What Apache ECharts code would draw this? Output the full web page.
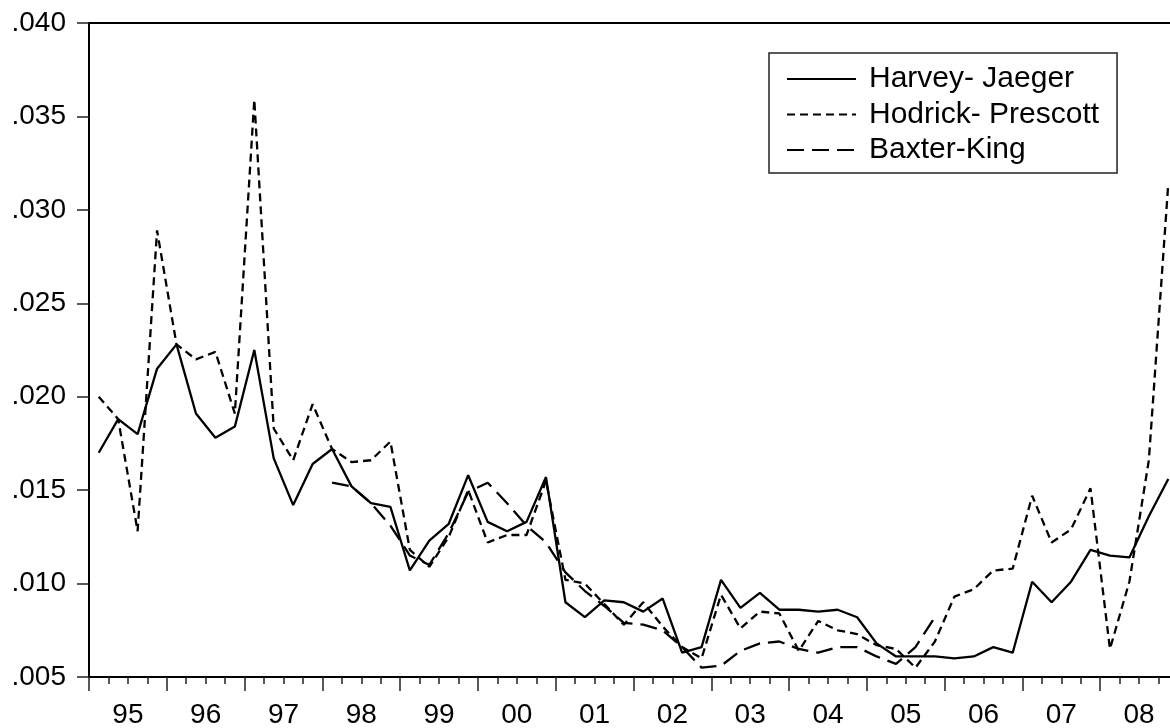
<!DOCTYPE html>
<html>
<head>
<meta charset="utf-8">
<script src="https://cdn.jsdelivr.net/npm/echarts@6/dist/echarts.min.js"></script>
<style>
  html, body { margin: 0; padding: 0; background: #fff; }
  #chart { width: 1170px; height: 728px; }
</style>
</head>
<body>
<div id="chart"></div>
<script>
// year labels on the x axis, one band of four quarters each
const years = ['95', '96', '97', '98', '99', '00', '01', '02', '03', '04', '05', '06', '07', '08']
const quarters = years.flatMap(y => ['Q1', 'Q2', 'Q3', 'Q4'].map(q => y + q))

// 1995Q1 .. 2008Q4
const harveyJaeger = [
  0.0170, 0.0188, 0.0180, 0.0215, 0.0228, 0.0191, 0.0178, 0.0184,
  0.0225, 0.0167, 0.0142, 0.0164, 0.0172, 0.0152, 0.0143, 0.0141,
  0.0107, 0.0123, 0.0132, 0.0158, 0.0133, 0.0128, 0.0133, 0.0157,
  0.0090, 0.0082, 0.0091, 0.0090, 0.0085, 0.0092, 0.0063, 0.0066,
  0.0102, 0.0087, 0.0095, 0.0086, 0.0086, 0.0085, 0.0086, 0.0082,
  0.0068, 0.0061, 0.0061, 0.0061, 0.0060, 0.0061, 0.0066, 0.0063,
  0.0101, 0.0090, 0.0101, 0.0118, 0.0115, 0.0114, 0.0136, 0.0156
]
const hodrickPrescott = [
  0.0200, 0.0188, 0.0128, 0.0289, 0.0228, 0.0220, 0.0224, 0.0191,
  0.0359, 0.0183, 0.0166, 0.0196, 0.0172, 0.0165, 0.0166, 0.0176,
  0.0118, 0.0109, 0.0125, 0.0150, 0.0122, 0.0126, 0.0126, 0.0155,
  0.0102, 0.0100, 0.0089, 0.0078, 0.0090, 0.0077, 0.0066, 0.0060,
  0.0094, 0.0076, 0.0085, 0.0084, 0.0064, 0.0080, 0.0075, 0.0073,
  0.0067, 0.0065, 0.0055, 0.0069, 0.0093, 0.0097, 0.0107, 0.0108,
  0.0147, 0.0122, 0.0129, 0.0151, 0.0065, 0.0101, 0.0166, 0.0314
]
const baxterKing = [
  null, null, null, null, null, null, null, null,
  null, null, null, null, 0.0154, 0.0152, 0.0143, 0.0131,
  0.0115, 0.0110, 0.0127, 0.0149, 0.0154, 0.0143, 0.0131, 0.0122,
  0.0106, 0.0096, 0.0088, 0.0079, 0.0078, 0.0075, 0.0066, 0.0055,
  0.0056, 0.0064, 0.0068, 0.0069, 0.0065, 0.0063, 0.0066, 0.0066,
  0.0061, 0.0057, 0.0066, 0.0082, null, null, null, null,
  null, null, null, null, null, null, null, null
]

const FONT = '"Liberation Sans", Arial, Helvetica, sans-serif'
const chart = echarts.init(document.getElementById('chart'), null, { renderer: 'canvas' })

const lineSeries = (name, data, type) => ({
  name,
  type: 'line',
  data,
  xAxisIndex: 0,
  symbol: 'none',
  animation: false,
  connectNulls: false,
  lineStyle: { color: '#000', width: 2.3, type },
  itemStyle: { color: '#000' }
})

chart.setOption({
  backgroundColor: '#fff',
  animation: false,
  grid: {
    left: 89,
    top: 23,
    width: 1089, // plot runs past the right edge, like the original crop
    height: 654,
    outerBoundsMode: 'none', // keep the plot box fixed, labels sit near the bottom edge
    show: true,
    borderColor: '#000',
    borderWidth: 2
  },
  legend: {
    left: 769,
    top: 53,
    orient: 'vertical',
    itemWidth: 69,
    itemHeight: 30,
    itemGap: 5.5,
    padding: [11, 18, 8, 17],
    borderColor: '#222',
    borderWidth: 1.5,
    backgroundColor: '#fff',
    textStyle: { color: '#000', fontSize: 30, fontFamily: FONT, lineHeight: 30, padding: [0, 0, 0, 8] },
    lineStyle: { width: 2 },
    itemStyle: { opacity: 0 }, // hide the marker, keep only the line sample
    data: ['Harvey- Jaeger', 'Hodrick- Prescott', 'Baxter-King']
  },
  xAxis: [
    {
      type: 'category',
      data: quarters,
      boundaryGap: true,
      position: 'bottom',
      axisLine: { show: true, lineStyle: { color: '#000', width: 2 } },
      axisTick: { show: true, interval: 0, length: 7, lineStyle: { color: '#222', width: 1.5 } },
      axisLabel: { show: false },
      splitLine: { show: false }
    },
    {
      type: 'category',
      data: years,
      boundaryGap: true,
      position: 'bottom',
      axisLine: { show: false },
      axisTick: { show: true, interval: 0, length: 14, lineStyle: { color: '#222', width: 1.5 } },
      axisLabel: { show: true, interval: 0, margin: 24, color: '#000', fontSize: 28, fontFamily: FONT },
      splitLine: { show: false }
    }
  ],
  yAxis: {
    type: 'value',
    min: 0.005,
    max: 0.040,
    interval: 0.005,
    axisLine: { show: true, lineStyle: { color: '#000', width: 2 } },
    axisTick: { show: true, length: 12, lineStyle: { color: '#222', width: 1.5 } },
    axisLabel: {
      margin: 23,
      color: '#000',
      fontSize: 28,
      fontFamily: FONT,
      formatter: v => v.toFixed(3).replace(/^0/, '')
    },
    splitLine: { show: false }
  },
  series: [
    lineSeries('Harvey- Jaeger', harveyJaeger, 'solid'),
    lineSeries('Hodrick- Prescott', hodrickPrescott, [8, 5]),
    lineSeries('Baxter-King', baxterKing, [17, 8])
  ]
})
</script>
</body>
</html>
